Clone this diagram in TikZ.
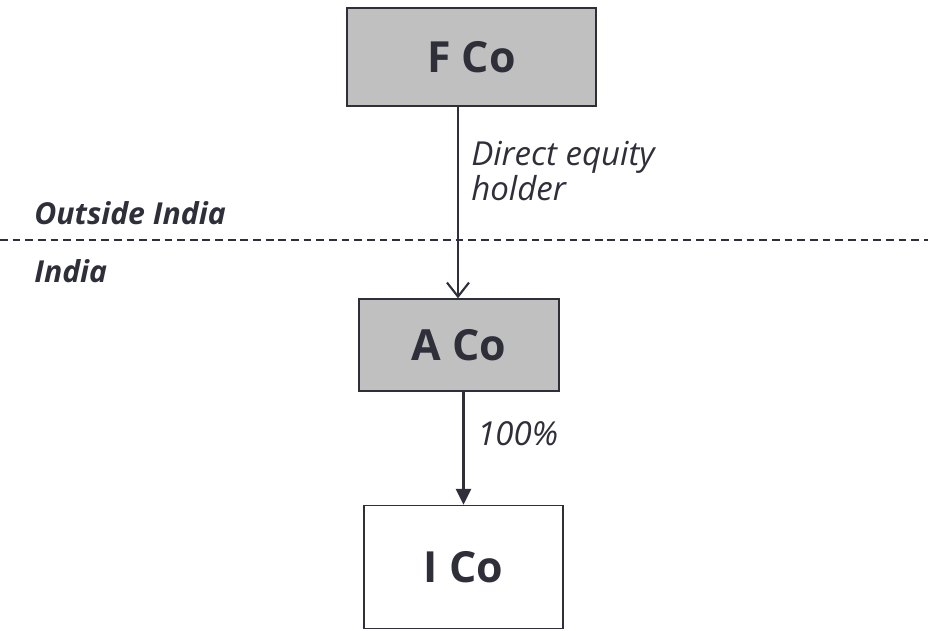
\documentclass[tikz,border=0pt]{standalone}
\usepackage{fontspec}
\setmainfont{Open Sans}
\usetikzlibrary{arrows.meta}
\definecolor{ink}{RGB}{47,47,58}
\definecolor{boxgrey}{RGB}{192,192,192}
\begin{document}
\begin{tikzpicture}[x=0.025cm,y=-0.025cm,
    company/.style={draw=ink,line width=1pt,text=ink,font=\fontsize{30.5}{32}\selectfont\bfseries,inner sep=0pt},
    owner/.style={company,fill=boxgrey},
    share/.style={text=ink,font=\fontsize{23.5}{21}\selectfont\itshape,inner sep=0pt,anchor=west},
    region/.style={text=ink,font=\fontsize{21.5}{23}\selectfont\bfseries\itshape,inner sep=0pt,anchor=west}]
    \useasboundingbox (0,0) rectangle (928,631);
    % boxes
    \node[owner,minimum width=6.225cm,minimum height=2.45cm] (fco) at (471.5,57) {F Co};
    \node[owner,minimum width=5cm,minimum height=2.3cm] (aco) at (459,345) {A Co};
    \node[company,minimum width=4.975cm,minimum height=3.075cm] (ico) at (463.5,567) {I Co};
    % border between the two regions
    \coordinate (bl) at (0,240);
    \coordinate (br) at (928,240);
    \draw[ink,line width=1pt,dash pattern=on 5.5pt off 3.5pt] (bl) -- (br);
    \node[region] (out) at (34,213) {Outside India};
    \node[region] (ind) at (34,271) {India};
    % holdings
    \draw[ink,line width=1.5pt,-{Straight Barb[length=3.5mm,width=5.5mm]}] (fco.south -| 458,0) -- (aco.north -| 458,0);
    \draw[ink,line width=1.5pt,-{Triangle[length=4mm,width=3.8mm]}] (aco.south -| ico.north) -- (ico.north);
    \node[share,align=left] (deh) at (471,171) {Direct equity\\holder};
    \node[share] (pct) at (477,434) {100\%};
\end{tikzpicture}
\end{document}
